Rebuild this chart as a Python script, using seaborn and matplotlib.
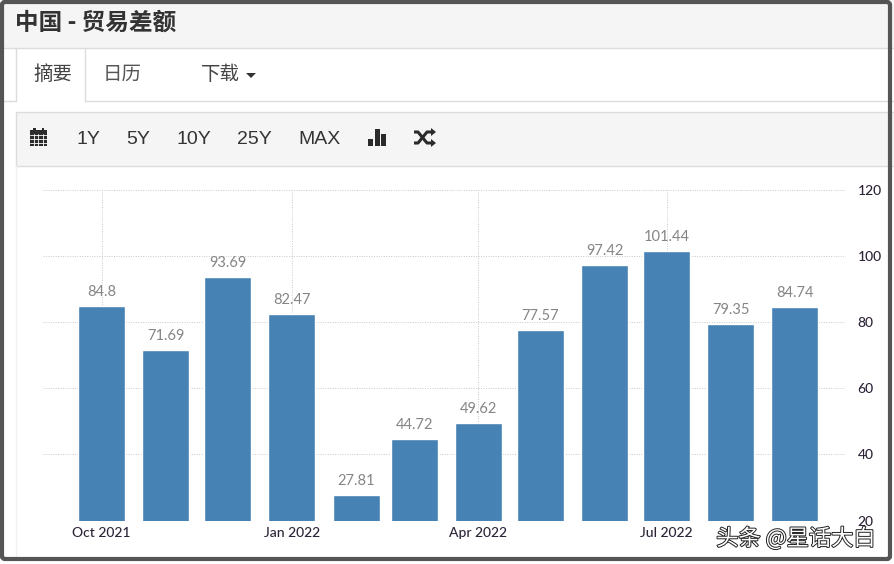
import matplotlib
matplotlib.use("Agg")
import matplotlib.pyplot as plt
import matplotlib.patheffects as pe
from matplotlib.patches import Rectangle, FancyBboxPatch, Polygon
import seaborn as sns
import pandas as pd

months = ["2021-10-01", "2021-11-01", "2021-12-01", "2022-01-01", "2022-02-01", "2022-03-01",
          "2022-04-01", "2022-05-01", "2022-06-01", "2022-07-01", "2022-08-01", "2022-09-01"]
balance = [84.8, 71.69, 93.69, 82.47, 27.81, 44.72, 49.62, 77.57, 97.42, 101.44, 79.35, 84.74]
value_labels = ["84.8", "71.69", "93.69", "82.47", "27.81", "44.72", "49.62", "77.57",
                "97.42", "101.44", "79.35", "84.74"]
shown_months = ["2021-10-01", "2022-01-01", "2022-04-01", "2022-07-01"]
shown_labels = ["Oct 2021", "Jan 2022", "Apr 2022", "Jul 2022"]
y_ticks = [20, 40, 60, 80, 100, 120]
title = "中国 - 贸易差额"
tabs = ["摘要", "日历", "下载"]
ranges = ["1Y", "5Y", "10Y", "25Y", "MAX"]
watermark = "头条 @星话大白"

sns.set_theme(style="white")
CJK = ["Noto Sans CJK SC", "DejaVu Sans"]
plt.rcParams["font.family"] = CJK
W, H = 894, 564
fig = plt.figure(figsize=(W / 100, H / 100), dpi=100, facecolor="white")

# page chrome, in pixel coordinates
bg = fig.add_axes([0, 0, 1, 1], zorder=0)
bg.set_xlim(0, W); bg.set_ylim(H, 0); bg.axis("off")
LINE = "#dcdcdc"
bg.add_patch(Rectangle((0, 0), W, 47.5, fc="#f5f5f5", ec="none"))
bg.plot([0, W], [47.5, 47.5], color=LINE, lw=1)
bg.plot([84.5, W], [100.5, 100.5], color=LINE, lw=1)
bg.plot([0, 15.5], [100.5, 100.5], color=LINE, lw=1)
bg.plot([15.5, 15.5, None, 84.5, 84.5], [47.5, 100.5, None, 47.5, 100.5], color=LINE, lw=1)
bg.add_patch(Rectangle((15.5, 111.5), W, 54, fc="#f5f5f5", ec=LINE, lw=1))
bg.plot([15.5, 15.5], [166, 556], color="#f0f0f0", lw=1)

bg.text(15, 23, title, fontsize=17, fontweight="bold", color="#333333", va="center", ha="left")
for s, x, c in zip(tabs, (53, 122, 220), ("#444444", "#555555", "#444444")):
    bg.text(x, 74, s, fontsize=14, color=c, va="center", ha="center")
bg.add_patch(Polygon([[246, 73], [256, 73], [251, 78]], fc="#333333", ec="none"))

for s, x in zip(ranges, (88, 138, 194, 254, 319)):
    bg.text(x, 139, s, fontsize=14, color="#333333", va="center", ha="center",
            family=["Liberation Sans"])

# toolbar icons
ICON = "#2b2b2b"
bg.add_patch(Rectangle((30, 130), 17, 16, fc=ICON, ec="none"))
bg.add_patch(Rectangle((33, 127.5), 2.5, 3, fc=ICON, ec="none"))
bg.add_patch(Rectangle((41.5, 127.5), 2.5, 3, fc=ICON, ec="none"))
for yy in (135, 139, 143):
    bg.plot([30, 47], [yy, yy], color="white", lw=0.6)
for xx in (34.2, 38.4, 42.6):
    bg.plot([xx, xx], [134, 146], color="white", lw=0.6)
for x0, top in ((368, 139), (374.5, 129), (381, 134)):
    bg.add_patch(Rectangle((x0, top), 5, 146 - top, fc=ICON, ec="none"))
bg.plot([414, 418, 427, 432], [132, 132, 143, 143], color=ICON, lw=2.2, solid_capstyle="butt")
bg.plot([414, 418, 427, 432], [143, 143, 132, 132], color=ICON, lw=2.2, solid_capstyle="butt")
bg.add_patch(Polygon([[431, 128], [436, 132], [431, 136]], fc=ICON, ec="none"))
bg.add_patch(Polygon([[431, 139], [436, 143], [431, 147]], fc=ICON, ec="none"))

# chart: bars sit on a true date scale, so month lengths show in the spacing
left, right, top, bottom = 43, 845, 190, 520.5
ax = fig.add_axes([left / W, 1 - bottom / H, (right - left) / W, (bottom - top) / H], zorder=1)
ax.patch.set_alpha(0)
dates = pd.to_datetime(months)
days = (dates - dates[0]).days.to_numpy()
df = pd.DataFrame({"day": days, "balance": balance})
sns.barplot(data=df, x="day", y="balance", native_scale=True, color="#4682b4", saturation=1,
            width=0.81, ax=ax, zorder=3)
px_per_day = 2.07
ax.set_xlim((left - 101.5) / px_per_day, (right - 101.5) / px_per_day)
ax.set_ylim(20, 120)
ax.set_xlabel(""); ax.set_ylabel("")
for sp in ax.spines.values():
    sp.set_visible(False)
ax.set_yticks(y_ticks)
ax.set_xticks((pd.to_datetime(shown_months) - dates[0]).days.to_numpy())
ax.set_xticklabels(shown_labels)
ax.grid(True, axis="both", color="#c8c8c8", linestyle=(0, (1, 1.5)), linewidth=0.7, zorder=0)
ax.set_axisbelow(True)
ax.yaxis.tick_right()
ax.tick_params(axis="y", length=0, pad=9, labelsize=10, labelcolor="#2d2438")
ax.tick_params(axis="x", length=0, pad=5, labelsize=10, labelcolor="#2d2438")
for lab in ax.get_xticklabels() + ax.get_yticklabels():
    lab.set_family(["Lato"])
    lab.set_fontweight("medium")
for d, v, s in zip(days, balance, value_labels):
    ax.annotate(s, (d, v), xytext=(0, 5), textcoords="offset points", ha="center", va="bottom",
                fontsize=10.5, color="#858585", family=["Lato"], zorder=4)

# frame and watermark on top
fg = fig.add_axes([0, 0, 1, 1], zorder=2)
fg.set_xlim(0, W); fg.set_ylim(H, 0); fg.axis("off"); fg.patch.set_alpha(0)
fg.add_patch(FancyBboxPatch((2, 2), 888, 557, boxstyle="round,pad=0,rounding_size=3",
                            fc="none", ec="#555555", lw=3))
fg.text(796, 538.5, watermark, fontsize=16, color="white", ha="center", va="center",
        path_effects=[pe.withStroke(linewidth=1.4, foreground="#222222")])

fig.savefig("out.png", dpi=100, facecolor="white")
